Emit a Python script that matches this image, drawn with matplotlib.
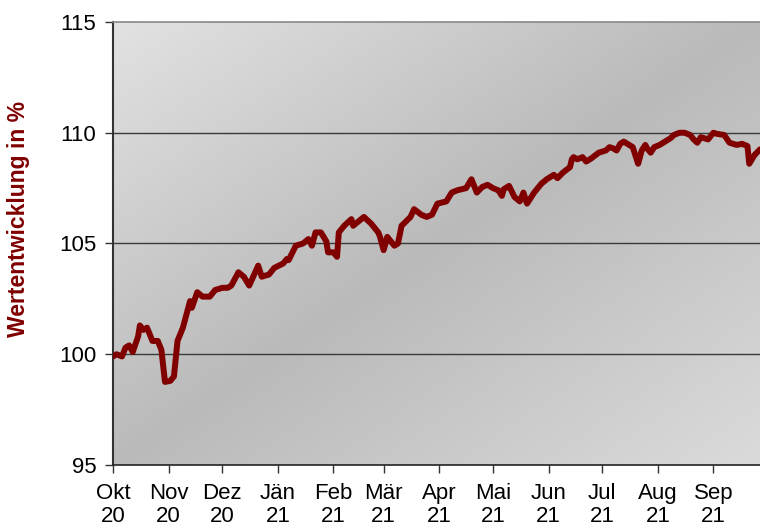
import matplotlib
matplotlib.use("Agg")
import matplotlib.pyplot as plt
import numpy as np
import pandas as pd

# --- Daten ---
dates = [
    "2020-10-01", "2020-10-03", "2020-10-06", "2020-10-08", "2020-10-10", "2020-10-12",
    "2020-10-15", "2020-10-16", "2020-10-18", "2020-10-20", "2020-10-23", "2020-10-26",
    "2020-10-28", "2020-10-30", "2020-11-02", "2020-11-04", "2020-11-06", "2020-11-09",
    "2020-11-13", "2020-11-14", "2020-11-17", "2020-11-20", "2020-11-24", "2020-11-27",
    "2020-12-01", "2020-12-04", "2020-12-06", "2020-12-10", "2020-12-13", "2020-12-16",
    "2020-12-21", "2020-12-23", "2020-12-27", "2020-12-30", "2021-01-04", "2021-01-06",
    "2021-01-07", "2021-01-11", "2021-01-15", "2021-01-18", "2021-01-20", "2021-01-22",
    "2021-01-25", "2021-01-28", "2021-01-29", "2021-02-01", "2021-02-03", "2021-02-04",
    "2021-02-07", "2021-02-11", "2021-02-12", "2021-02-15", "2021-02-18", "2021-02-22",
    "2021-02-26", "2021-02-27", "2021-03-01", "2021-03-03", "2021-03-07", "2021-03-09",
    "2021-03-11", "2021-03-16", "2021-03-18", "2021-03-22", "2021-03-25", "2021-03-28",
    "2021-03-31", "2021-04-05", "2021-04-08", "2021-04-11", "2021-04-16", "2021-04-19",
    "2021-04-22", "2021-04-25", "2021-04-28", "2021-05-01", "2021-05-04", "2021-05-06",
    "2021-05-07", "2021-05-10", "2021-05-13", "2021-05-16", "2021-05-18", "2021-05-20",
    "2021-05-24", "2021-05-28", "2021-05-31", "2021-06-04", "2021-06-06", "2021-06-09",
    "2021-06-13", "2021-06-14", "2021-06-15", "2021-06-17", "2021-06-20", "2021-06-22",
    "2021-06-25", "2021-06-29", "2021-07-03", "2021-07-05", "2021-07-07", "2021-07-09",
    "2021-07-11", "2021-07-13", "2021-07-16", "2021-07-18", "2021-07-21", "2021-07-23",
    "2021-07-25", "2021-07-26", "2021-07-28", "2021-07-30", "2021-08-02", "2021-08-05",
    "2021-08-08", "2021-08-10", "2021-08-13", "2021-08-16", "2021-08-19", "2021-08-21",
    "2021-08-23", "2021-08-25", "2021-08-29", "2021-09-01", "2021-09-03", "2021-09-07",
    "2021-09-10", "2021-09-14", "2021-09-17", "2021-09-20", "2021-09-21", "2021-09-24",
    "2021-09-27",
]
werte = [
    99.9, 100.0, 99.9, 100.3, 100.4, 100.1,
    100.8, 101.3, 101.1, 101.2, 100.6, 100.6,
    100.2, 98.75, 98.8, 99.0, 100.6, 101.2,
    102.4, 102.1, 102.8, 102.6, 102.6, 102.9,
    103.0, 103.0, 103.1, 103.7, 103.5, 103.1,
    104.0, 103.5, 103.6, 103.9, 104.1, 104.3,
    104.25, 104.9, 105.0, 105.2, 104.9, 105.5,
    105.5, 105.1, 104.6, 104.6, 104.4, 105.5,
    105.8, 106.1, 105.8, 106.0, 106.2, 105.9,
    105.5, 105.3, 104.7, 105.3, 104.9, 105.0,
    105.8, 106.2, 106.55, 106.3, 106.2, 106.3,
    106.8, 106.9, 107.3, 107.4, 107.5, 107.9,
    107.3, 107.55, 107.65, 107.5, 107.4, 107.15,
    107.45, 107.6, 107.1, 106.9, 107.3, 106.8,
    107.3, 107.7, 107.9, 108.1, 107.95, 108.2,
    108.45, 108.8, 108.9, 108.8, 108.9, 108.7,
    108.85, 109.1, 109.2, 109.35, 109.3, 109.2,
    109.5, 109.6, 109.45, 109.35, 108.6, 109.2,
    109.45, 109.3, 109.1, 109.35, 109.45, 109.6,
    109.75, 109.9, 110.0, 110.0, 109.9, 109.7,
    109.55, 109.8, 109.7, 110.0, 109.95, 109.9,
    109.55, 109.45, 109.5, 109.4, 108.6, 109.0,
    109.25,
]
monate = ["Okt", "Nov", "Dez", "Jän", "Feb", "Mär", "Apr", "Mai", "Jun", "Jul", "Aug", "Sep"]
jahre = ["20", "20", "20", "21", "21", "21", "21", "21", "21", "21", "21", "21"]
y_ticks = [95, 100, 105, 110, 115]
# -------------------------

plt.rcParams['font.family'] = ['Liberation Sans', 'DejaVu Sans']

x = pd.to_datetime(dates)
tick_pos = pd.date_range("2020-10-01", periods=12, freq="MS")

fig = plt.figure(figsize=(7.6, 5.28), dpi=100)
ax = fig.add_axes([113 / 760, 63 / 528, 647 / 760, 443 / 528])

# Hintergrund mit Farbverlauf (hell oben links / unten rechts, dunkel in der Diagonale)
u, v = np.meshgrid(np.linspace(0, 1, 300), np.linspace(0, 1, 300))
t = (u + v) / 2  # 0 oben links, 1 unten rechts
grau = np.where(t < 0.5, 226 - (226 - 186) * t / 0.5, 186 + (219 - 186) * (t - 0.5) / 0.5) / 255
bg = np.dstack([grau, grau, grau])
ax.imshow(bg, extent=[0, 1, 0, 1], transform=ax.transAxes, aspect='auto',
          origin='upper', zorder=0, interpolation='bilinear')

for yv in [100, 105, 110]:
    ax.axhline(yv, color='#3a3a3a', linewidth=1.0, zorder=1)

ax.plot(x, werte, color='#800000', linewidth=4.3, solid_joinstyle='round',
        solid_capstyle='round', zorder=3)

ax.set_ylim(95, 115)
ax.set_xlim(pd.Timestamp("2020-10-01"), pd.Timestamp("2021-09-27"))
ax.set_yticks(y_ticks)
ax.set_yticklabels([str(v) for v in y_ticks], fontsize=16)
ax.set_xticks(tick_pos)
ax.set_xticklabels([f"{m}\n{j}" for m, j in zip(monate, jahre)], fontsize=16, linespacing=1.15)

ax.tick_params(axis='y', length=6, width=1, pad=6, color='#333333')
ax.tick_params(axis='x', length=6, width=1, pad=7, color='#333333')

ax.spines['left'].set_color('#333333')
ax.spines['left'].set_linewidth(1.5)
ax.spines['bottom'].set_color('#222222')
ax.spines['bottom'].set_linewidth(1.2)
ax.spines['top'].set_color('#888888')
ax.spines['top'].set_linewidth(1.2)
ax.spines['right'].set_visible(False)

fig.text(19 / 760, 1 - 219 / 528, "Wertentwicklung in %", rotation=90, ha='center', va='center',
         fontsize=16.5, fontweight='bold', color='#800000')

fig.savefig("out.png", dpi=100)
